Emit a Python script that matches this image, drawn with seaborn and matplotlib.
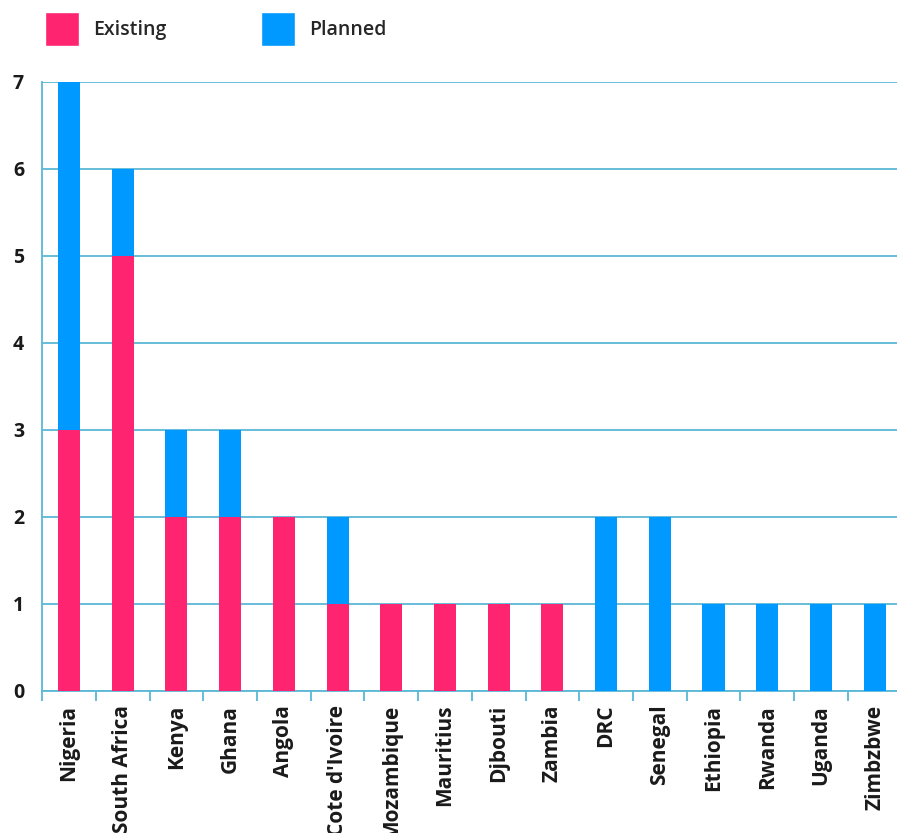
import numpy as np
import pandas as pd
import seaborn as sns
import matplotlib.pyplot as plt
from matplotlib.patches import Patch

countries = ["Nigeria", "South Africa", "Kenya", "Ghana", "Angola", "Cote d'Ivoire",
             "Mozambique", "Mauritius", "Djbouti", "Zambia", "DRC", "Senegal",
             "Ethiopia", "Rwanda", "Uganda", "Zimbzbwe"]
existing = [3, 5, 2, 2, 2, 1, 1, 1, 1, 1, 0, 0, 0, 0, 0, 0]
planned = [4, 1, 1, 1, 0, 1, 0, 0, 0, 0, 2, 2, 1, 1, 1, 1]

pink = "#ff2470"
blue = "#0099ff"
line_col = "#5cb8d6"

sns.set_theme(style="white")
plt.rcParams["font.family"] = ["Open Sans", "DejaVu Sans"]

df = pd.DataFrame({"country": countries, "existing": existing, "planned": planned})
df["total"] = df["existing"] + df["planned"]

fig = plt.figure(figsize=(8.97, 8.33), dpi=100)
ax = fig.add_axes([0.047, 0.1705, 0.958, 0.7311])

# blue = total, pink drawn over it so the stack reads existing + planned
sns.barplot(data=df, x="country", y="total", color=blue, width=0.41,
            saturation=1, linewidth=0, ax=ax, zorder=3)
sns.barplot(data=df, x="country", y="existing", color=pink, width=0.41,
            saturation=1, linewidth=0, ax=ax, zorder=4)

ax.set_ylim(0, 7)
ax.set_xlim(-0.5, len(countries) - 0.5)
ax.set_yticks(range(8))
ax.yaxis.grid(True, color=line_col, linewidth=1.3, zorder=0)
ax.set_axisbelow(True)
ax.set_xlabel("")
ax.set_ylabel("")

for side in ["top", "right"]:
    ax.spines[side].set_visible(False)
for side in ["left", "bottom"]:
    ax.spines[side].set_color(line_col)
    ax.spines[side].set_linewidth(1.3)

ax.set_xticks(np.arange(-0.5, len(countries), 1), minor=True)
ax.tick_params(axis="x", which="minor", length=7, width=1.3, color=line_col,
               direction="out", bottom=True)
ax.tick_params(axis="x", which="major", length=0, pad=10)
ax.tick_params(axis="y", length=0, pad=13)
plt.setp(ax.get_xticklabels(), rotation=90, fontsize=15, fontweight="bold", color="#1a1a1a")
plt.setp(ax.get_yticklabels(), fontsize=14, fontweight="bold", color="#1a1a1a")

handles = [Patch(facecolor=pink, label="Existing"), Patch(facecolor=blue, label="Planned")]
fig.legend(handles=handles, loc="upper left", bbox_to_anchor=(45 / 897, 1 - 12 / 833), ncol=2,
           frameon=False, handlelength=1.75, handleheight=2.3, columnspacing=4.9,
           handletextpad=0.7, borderpad=0, borderaxespad=0,
           prop={"size": 14, "weight": "semibold"})

fig.savefig("out.png", dpi=100)
